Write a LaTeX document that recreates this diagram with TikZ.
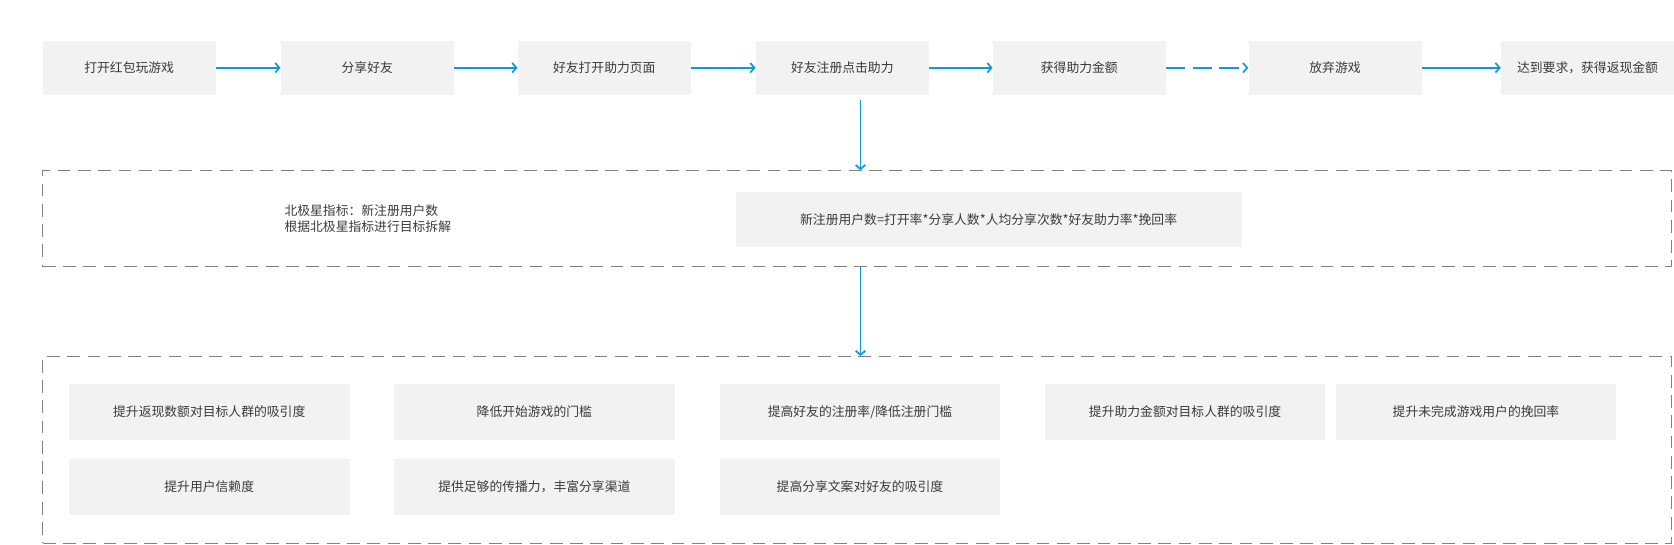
\documentclass[tikz,border=0pt]{standalone}
\usepackage{fontspec}
\newfontfamily\cjk{Noto Sans CJK SC}
\usetikzlibrary{arrows.meta}
\definecolor{boxgray}{HTML}{F2F2F2}
\definecolor{flowblue}{HTML}{0E9AD7}
\definecolor{framegray}{HTML}{808080}
\definecolor{txtgray}{HTML}{3A3A3A}

\begin{document}
\begin{tikzpicture}[x=1pt, y=-1pt,
		stepbox/.style={fill=boxgray, minimum width=162pt, minimum height=51pt, inner sep=0pt, text=txtgray, font=\cjk\fontsize{12}{15}\selectfont},
		ideabox/.style={stepbox, minimum width=263pt, minimum height=52pt},
		flow/.style={draw=flowblue, line width=1.8pt, -{Straight Barb[length=4pt, width=9pt, line width=1.6pt]}},
		drop/.style={flow, line width=1.3pt},
		frame/.style={draw=framegray, line width=0.9pt, dash pattern=on 12pt off 7pt, minimum width=1526pt, inner sep=0pt}]
		\useasboundingbox (0, 0) rectangle (1568, 510);
		\node[stepbox](open)at(121, 63.5){打开红包玩游戏};
		\node[stepbox](share)at(344, 63.5){分享好友};
		\node[stepbox](visit)at(566, 63.5){好友打开助力页面};
		\node[stepbox](help)at(789, 63.5){好友注册点击助力};
		\node[stepbox](gain)at(1011, 63.5){获得助力金额};
		\node[stepbox](quit)at(1250.5, 63.5){放弃游戏};
		\node[stepbox](cash)at(1487, 63.5){达到要求，获得返现金额};
		\draw[flow](open)--(share);
		\draw[flow](share)--(visit);
		\draw[flow](visit)--(help);
		\draw[flow](help)--(gain);
		\draw[flow, dash pattern=on 18pt off 7pt](gain)--(quit);
		\draw[flow](quit)--(cash);
		\node[frame, minimum height=90pt](goal)at(803, 205){};
		\node[anchor=west, align=left, text=txtgray, font=\cjk\fontsize{12}{15}\selectfont](star)at(263, 205){北极星指标：新注册用户数\\根据北极星指标进行目标拆解};
		\node[stepbox, minimum width=474pt](rule)at(926, 205.5){新注册用户数=打开率*分享人数*人均分享次数*好友助力率*挽回率};
		\node[frame, minimum height=175pt](ways)at(803, 421.5){};
		\coordinate(tap)at(806, 94);
		\draw[drop](tap)--(tap |- goal.north);
		\draw[drop](tap |- goal.south)--(tap |- ways.north);
		\node[ideabox](backcash)at(196, 386){提升返现数额对目标人群的吸引度};
		\node[ideabox](easystart)at(500.5, 386){降低开始游戏的门槛};
		\node[ideabox](signup)at(805.5, 386){提高好友的注册率/降低注册门槛};
		\node[ideabox](helpcash)at(1110, 386){提升助力金额对目标人群的吸引度};
		\node[ideabox](winback)at(1382.5, 386){提升未完成游戏用户的挽回率};
		\node[ideabox](trust)at(196, 456){提升用户信赖度};
		\node[ideabox](spread)at(500.5, 456){提供足够的传播力，丰富分享渠道};
		\node[ideabox](copy)at(805.5, 456){提高分享文案对好友的吸引度};
	\end{tikzpicture}
\end{document}
